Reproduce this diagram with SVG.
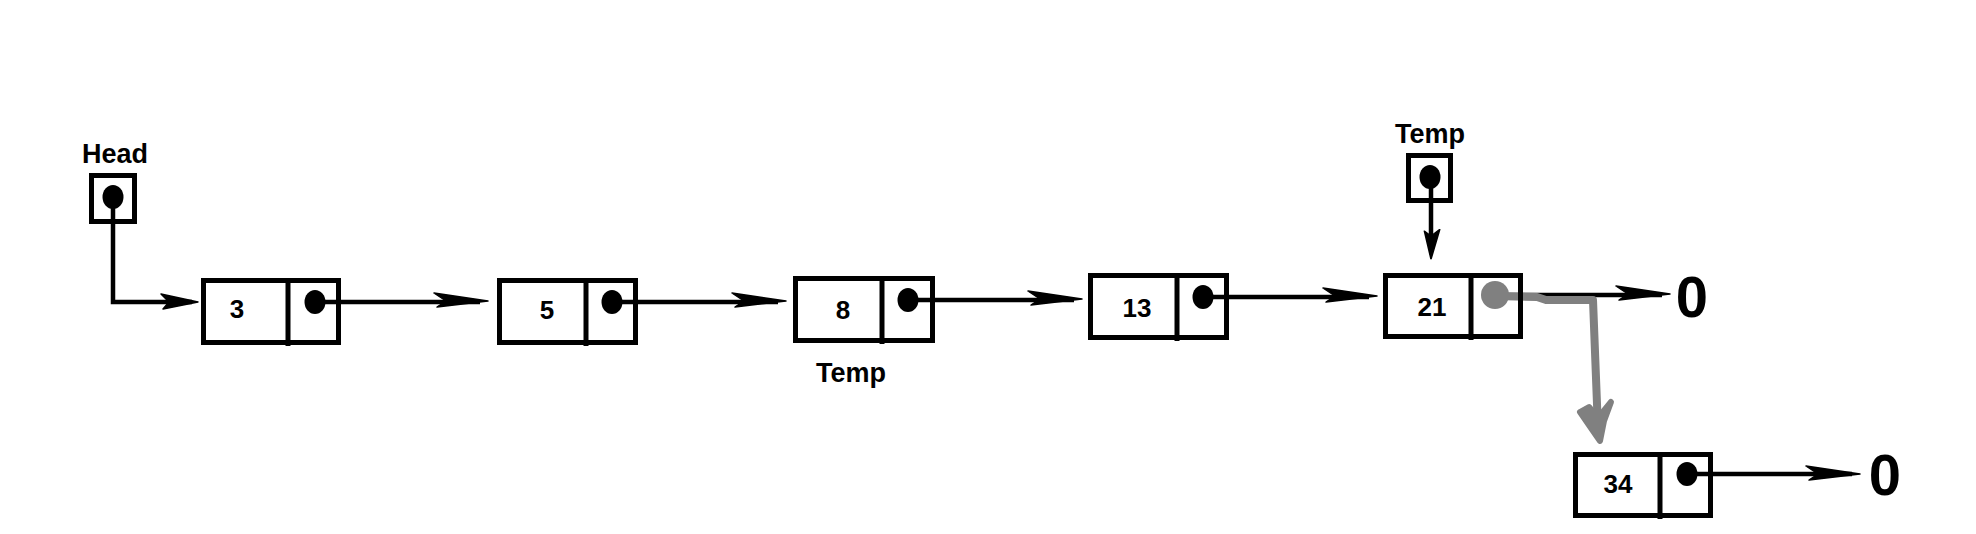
<svg xmlns="http://www.w3.org/2000/svg" width="1976" height="534" viewBox="0 0 1976 534">
<style>
.box{fill:none;stroke:#000;stroke-width:5}
.dot{fill:#000}
.lbl{font-family:"Liberation Sans",Arial,sans-serif;font-weight:bold;fill:#000;text-anchor:middle}
.num{font-size:26px}
.name{font-size:27px}
.zero{font-size:58px}
.wire{fill:none;stroke:#000;stroke-width:4.5}
.ah{fill:#000;stroke:#000;stroke-width:1.5;stroke-linejoin:round}
.gray{fill:none;stroke:#808080;stroke-width:8;stroke-linecap:round;stroke-linejoin:round}
</style>
<defs>
<path id="ah" d="M0,0 L-54,-8 L-42,0 L-51,6 Z"/>
<path id="ahs" d="M0,0 L-37,-8 L-29,0 L-35,7 Z"/>
</defs>
<rect width="1976" height="534" fill="#fff"/>

<g id="connectors">
<path class="wire" d="M113,197 V302 H192"/>
<use href="#ahs" class="ah" transform="translate(198,302)"/>
<path class="wire" d="M315,302 H480"/>
<use href="#ah" class="ah" transform="translate(488,301)"/>
<path class="wire" d="M612,302 H778"/>
<use href="#ah" class="ah" transform="translate(786,301)"/>
<path class="wire" d="M908,300 H1074"/>
<use href="#ah" class="ah" transform="translate(1082,299)"/>
<path class="wire" d="M1203,297 H1369"/>
<use href="#ah" class="ah" transform="translate(1377,296)"/>
<path class="wire" d="M1495,295 H1662"/>
<use href="#ah" class="ah" transform="translate(1670,294)"/>
<path class="wire" d="M1687,474 H1852"/>
<use href="#ah" class="ah" transform="translate(1860,474)"/>
<path class="wire" d="M1431,177 V250"/>
<use href="#ah" class="ah" transform="translate(1431,259) rotate(90) scale(0.55,1.1)"/>
<g id="gray-link">
<circle cx="1495" cy="295" r="14" fill="#808080"/>
<path class="gray" d="M1495,296 L1537,297 L1546,300 L1593,300 L1598,430"/>
<polygon points="1580,412 1589,407 1598,418 1611,402 1604,421 1600,441 1591,428" fill="#808080" stroke="#808080" stroke-width="6" stroke-linejoin="round"/>
</g>
</g>

<g id="head">
<text class="lbl name" x="115" y="163">Head</text>
<rect class="box" x="91.5" y="175.5" width="43" height="46"/>
<ellipse class="dot" cx="113" cy="197" rx="10.5" ry="12"/>
</g>

<g id="temp-top">
<text class="lbl name" x="1430" y="143">Temp</text>
<rect class="box" x="1408.5" y="155.5" width="42" height="45"/>
<ellipse class="dot" cx="1430" cy="177" rx="10.5" ry="12"/>
</g>

<g id="temp-bottom">
<text class="lbl name" x="851" y="382">Temp</text>
</g>

<g id="node3">
<rect class="box" x="203.5" y="280.5" width="135" height="62"/>
<line class="box" x1="288" y1="278" x2="288" y2="346"/>
<text class="lbl num" x="237" y="318">3</text>
<ellipse class="dot" cx="315" cy="302" rx="10.5" ry="12"/>
</g>

<g id="node5">
<rect class="box" x="499.5" y="280.5" width="136" height="62"/>
<line class="box" x1="586" y1="278" x2="586" y2="346"/>
<text class="lbl num" x="547" y="319">5</text>
<ellipse class="dot" cx="612" cy="302" rx="10.5" ry="12"/>
</g>

<g id="node8">
<rect class="box" x="795.5" y="278.5" width="137" height="62"/>
<line class="box" x1="882" y1="276" x2="882" y2="344"/>
<text class="lbl num" x="843" y="319">8</text>
<ellipse class="dot" cx="908" cy="300" rx="10.5" ry="12"/>
</g>

<g id="node13">
<rect class="box" x="1090.5" y="275.5" width="136" height="62"/>
<line class="box" x1="1177" y1="273" x2="1177" y2="341"/>
<text class="lbl num" x="1137" y="317">13</text>
<ellipse class="dot" cx="1203" cy="297" rx="10.5" ry="12"/>
</g>

<g id="node21">
<rect class="box" x="1385.5" y="275.5" width="135" height="61"/>
<line class="box" x1="1471" y1="273" x2="1471" y2="340"/>
<text class="lbl num" x="1432" y="316">21</text>
</g>

<g id="node34">
<rect class="box" x="1575.5" y="454.5" width="135" height="61"/>
<line class="box" x1="1660" y1="452" x2="1660" y2="519"/>
<text class="lbl num" x="1618" y="493">34</text>
<ellipse class="dot" cx="1687" cy="474" rx="10.5" ry="12"/>
</g>

<g id="null1">
<text class="lbl zero" x="1692" y="317">0</text>
</g>
<g id="null2">
<text class="lbl zero" x="1885" y="495">0</text>
</g>
</svg>
